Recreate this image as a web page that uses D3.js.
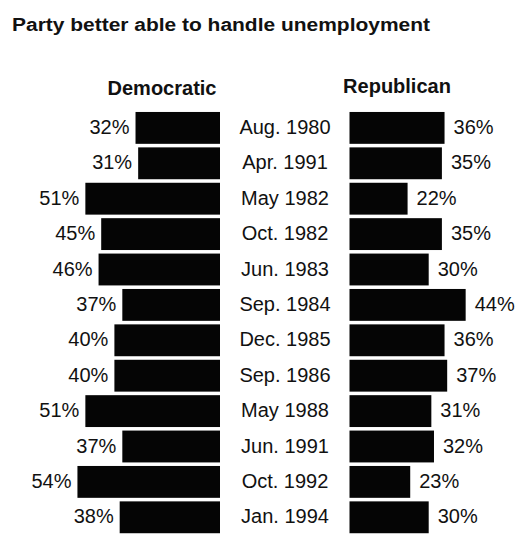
<!DOCTYPE html>
<html>
<head>
<meta charset="utf-8">
<script src="https://cdn.jsdelivr.net/npm/d3@7"></script>
<style>
  html, body { margin: 0; padding: 0; background: #fff; }
  svg { display: block; }
  text { font-family: "Liberation Sans", Arial, Helvetica, sans-serif; fill: #111; }
</style>
</head>
<body>
<svg id="chart" width="531" height="539"></svg>
<script>
const title = "Party better able to handle unemployment";
const seriesNames = ["Democratic", "Republican"];
const dates = ["Aug. 1980", "Apr. 1991", "May 1982", "Oct. 1982", "Jun. 1983", "Sep. 1984",
               "Dec. 1985", "Sep. 1986", "May 1988", "Jun. 1991", "Oct. 1992", "Jan. 1994"];
const democratic = [32, 31, 51, 45, 46, 37, 40, 40, 51, 37, 54, 38];
const republican = [36, 35, 22, 35, 30, 44, 36, 37, 31, 32, 23, 30];

const svg = d3.select("#chart");

const y = d3.scaleBand().domain(dates).range([110.2, 535]).paddingInner(0.1).paddingOuter(0.05);
const len = d3.scaleLinear().domain([0, 100]).range([0, 264]);

const leftEdge = 220;   // right edge of Democratic bars
const rightEdge = 349.5; // left edge of Republican bars

svg.append("text")
  .attr("x", 12).attr("y", 31)
  .attr("font-size", 18).attr("font-weight", "bold")
  .attr("textLength", 418).attr("lengthAdjust", "spacingAndGlyphs")
  .text(title);

svg.append("text").attr("x", 162).attr("y", 95).attr("text-anchor", "middle")
  .attr("font-size", 20).attr("font-weight", "bold").text(seriesNames[0]);
svg.append("text").attr("x", 397).attr("y", 93).attr("text-anchor", "middle")
  .attr("font-size", 20).attr("font-weight", "bold").text(seriesNames[1]);

const rows = dates.map((d, i) => ({date: d, dem: democratic[i], rep: republican[i]}));

const g = svg.append("g");

g.selectAll("rect.dem").data(rows).join("rect")
  .attr("class", "dem")
  .attr("x", d => leftEdge - len(d.dem))
  .attr("y", d => y(d.date))
  .attr("width", d => len(d.dem))
  .attr("height", y.bandwidth())
  .attr("fill", "#050505");

g.selectAll("rect.rep").data(rows).join("rect")
  .attr("class", "rep")
  .attr("x", rightEdge)
  .attr("y", d => y(d.date))
  .attr("width", d => len(d.rep))
  .attr("height", y.bandwidth())
  .attr("fill", "#050505");

g.selectAll("text.date").data(rows).join("text")
  .attr("class", "date")
  .attr("x", 285)
  .attr("y", d => y(d.date) + y.bandwidth() / 2 + 6)
  .attr("text-anchor", "middle")
  .attr("font-size", 20)
  .text(d => d.date);

g.selectAll("text.demv").data(rows).join("text")
  .attr("class", "demv")
  .attr("x", d => leftEdge - len(d.dem) - 6)
  .attr("y", d => y(d.date) + y.bandwidth() / 2 + 6)
  .attr("text-anchor", "end")
  .attr("font-size", 20)
  .text(d => d.dem + "%");

g.selectAll("text.repv").data(rows).join("text")
  .attr("class", "repv")
  .attr("x", d => rightEdge + len(d.rep) + 9)
  .attr("y", d => y(d.date) + y.bandwidth() / 2 + 6)
  .attr("text-anchor", "start")
  .attr("font-size", 20)
  .text(d => d.rep + "%");
</script>
</body>
</html>
